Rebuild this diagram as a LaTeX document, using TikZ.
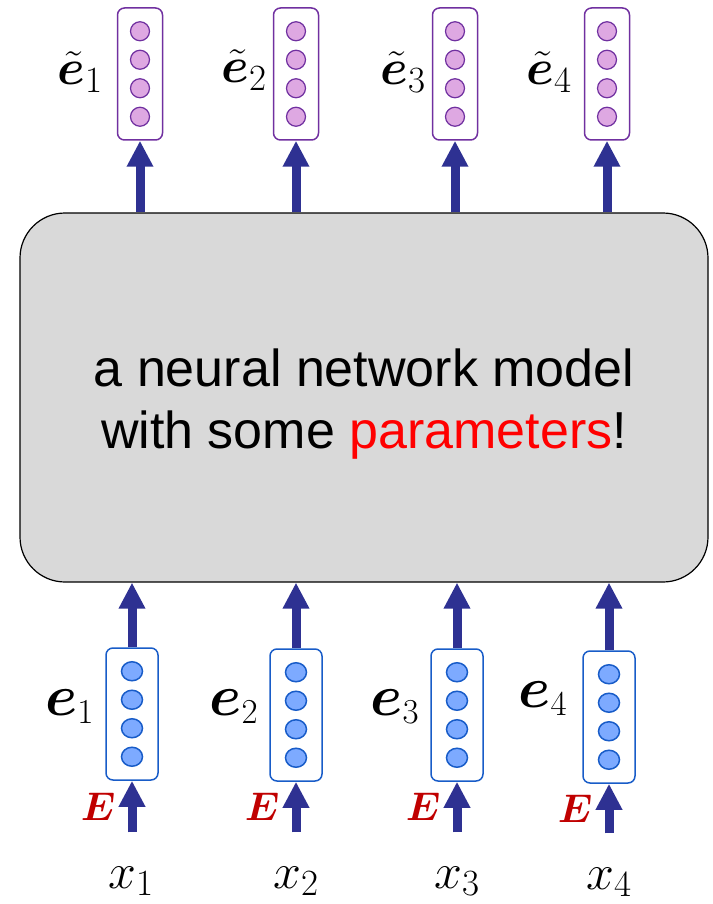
\RequirePackage{fix-cm}
\documentclass[tikz,border=0pt]{standalone}
\usepackage{amsmath,amssymb,bm}
\usepackage{fontspec}
\setmainfont{Liberation Sans}
\usetikzlibrary{arrows.meta,positioning,calc,shapes.geometric}
\usepackage{xcolor}
\definecolor{arrblue}{RGB}{46,49,146}
\definecolor{embline}{RGB}{24,92,200}
\definecolor{embfill}{RGB}{125,170,255}
\definecolor{outline}{RGB}{112,48,160}
\definecolor{outfill}{RGB}{222,168,226}
\definecolor{modelgray}{RGB}{217,217,217}
\definecolor{Ered}{RGB}{192,0,0}
\DeclareMathSizes{58}{58}{35}{25}
\DeclareMathSizes{50}{50}{37}{25}
\DeclareMathSizes{40}{40}{28}{20}
\tikzset{
  arr/.style={arrblue,line width=9pt,-{Triangle[width=25pt,length=26pt]}},
  embbox/.style={draw=embline,line width=1.5pt,rounded corners=7pt,minimum width=52pt,minimum height=132pt,inner sep=0pt},
  outbox/.style={draw=outline,line width=1.5pt,rounded corners=7pt,minimum width=45pt,minimum height=132pt,inner sep=0pt},
  embunit/.style={draw=embline,fill=embfill,line width=1.5pt,ellipse,minimum width=21pt,minimum height=19pt,inner sep=0pt},
  outunit/.style={draw=outline,fill=outfill,line width=1.2pt,circle,minimum size=19pt,inner sep=0pt},
  outlab/.style={font=\fontsize{50}{56}\selectfont,inner sep=0pt,anchor=base east},
  emblab/.style={font=\fontsize{58}{64}\selectfont,inner sep=0pt,anchor=base east},
  wordlab/.style={font=\fontsize{50}{56}\selectfont,inner sep=0pt,anchor=base},
  Elab/.style={font=\fontsize{40}{44}\selectfont,text=Ered,inner sep=0pt}
}
\begin{document}
\begin{tikzpicture}[x=1pt,y=-1pt]
\useasboundingbox (0,0) rectangle (712,904);
\node (M) [draw,fill=modelgray,line width=1.2pt,rounded corners=45pt,minimum width=688pt,minimum height=369pt] at (364,397.5) {};
\node (Mtxt) [align=center,font=\fontsize{52}{62}\selectfont] at ($(M.center)+(0,7)$)
  {a neural network model\\with some \textcolor{red}{parameters}!};
% word vectors at the bottom
\node (B1) [embbox] at (132,714) {};
\node (B2) [embbox] at (296,715) {};
\node (B3) [embbox] at (457,715) {};
\node (B4) [embbox] at (609,717) {};
% contextual vectors at the top
\node (T1) [outbox] at (140,74) {};
\node (T2) [outbox] at (296,74) {};
\node (T3) [outbox] at (455,74) {};
\node (T4) [outbox] at (607,74) {};
\foreach \i in {1,...,4}{
  \foreach \d in {-42.75,-14.25,14.25,42.75}{
    \node [embunit] at ($(B\i)+(0,\d)$) {};
    \node [outunit] at ($(T\i)+(0,\d)$) {};
  }
}
% labels
\node (e1) [emblab] at ($(B1.west)+(-11,1)$) {$\bm{e}_1$};
\node (e2) [emblab] at ($(B2.west)+(-11,0)$) {$\bm{e}_2$};
\node (e3) [emblab] at ($(B3.west)+(-11,0)$) {$\bm{e}_3$};
\node (e4) [emblab] at ($(B4.west)+(-15,-10)$) {$\bm{e}_4$};
\node (t1) [outlab] at ($(T1.west)+(-14,11)$) {$\tilde{\bm{e}}_1$};
\node (t2) [outlab] at ($(T2.west)+(-6,9)$) {$\tilde{\bm{e}}_2$};
\node (t3) [outlab] at ($(T3.west)+(-6,11)$) {$\tilde{\bm{e}}_3$};
\node (t4) [outlab] at ($(T4.west)+(-12,11)$) {$\tilde{\bm{e}}_4$};
\node (X1) [wordlab] at (131,888) {$x_1$};
\node (X2) [wordlab] at (296,888) {$x_2$};
\node (X3) [wordlab] at (457,888) {$x_3$};
\node (X4) [wordlab] at (609,889) {$x_4$};
% arrows
\foreach \i in {1,...,4}{
  \draw[arr] (B\i.north) -- (M.south -| B\i.north);
  \draw[arr] (M.north -| T\i.south) -- (T\i.south);
  \draw[arr,shorten <=34pt] (B\i.south |- X\i.north) -- node[Elab,pos=0.7,left=12pt] {$\bm{E}$} (B\i.south);
}
\end{tikzpicture}
\end{document}
